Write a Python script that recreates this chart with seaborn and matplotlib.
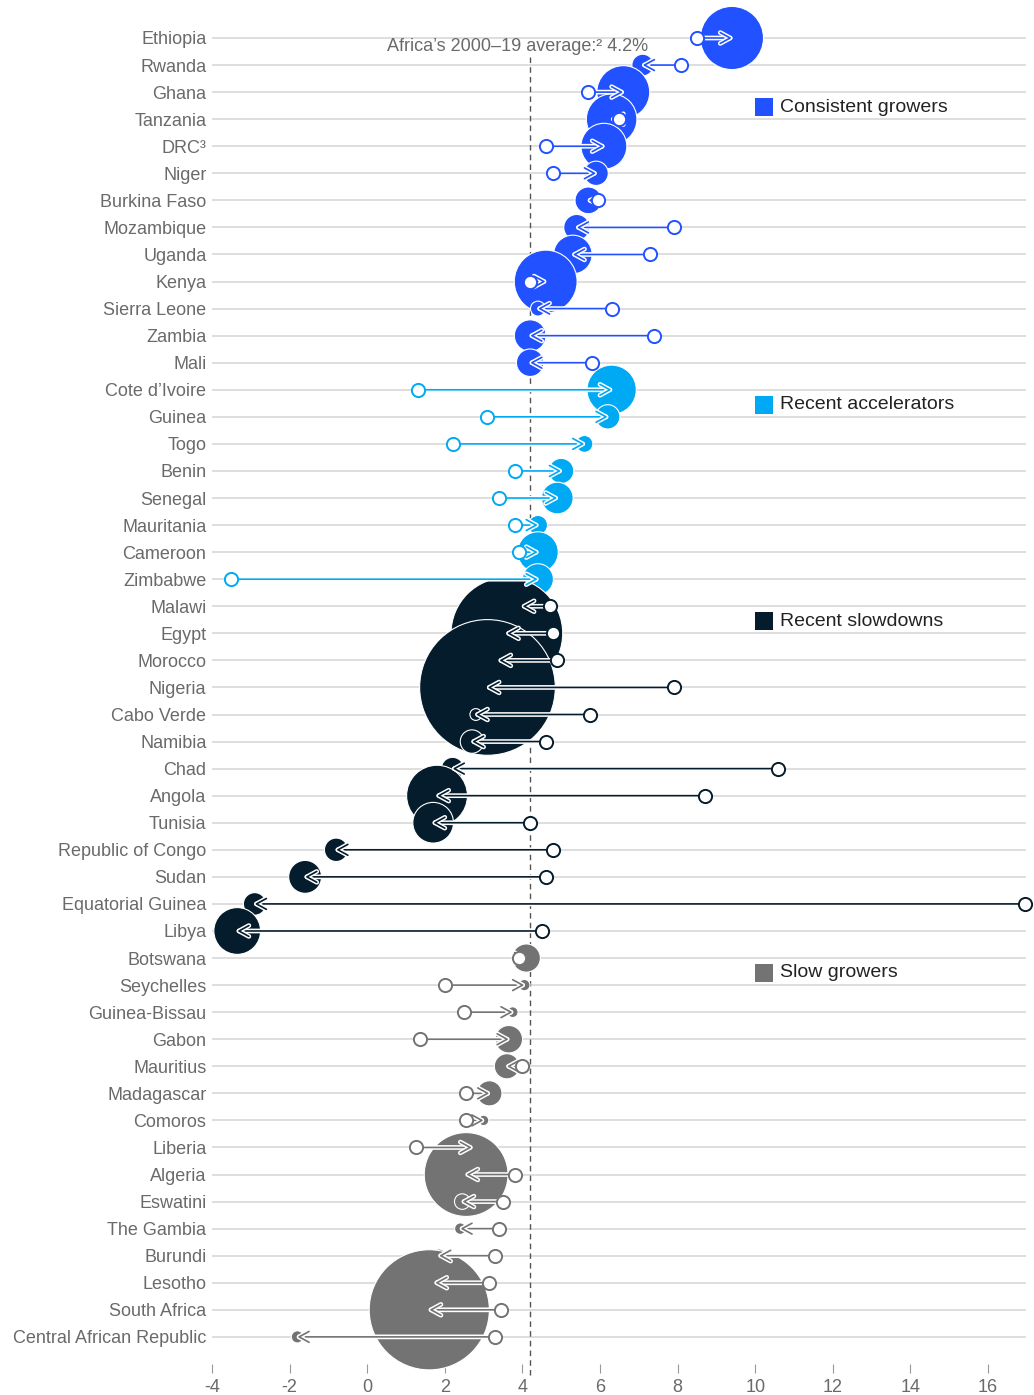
import numpy as np
import pandas as pd
import matplotlib
matplotlib.use("Agg")
import matplotlib.pyplot as plt
import matplotlib.patheffects as pe
import seaborn as sns

# ---------------- data ----------------
countries = [
    "Ethiopia", "Rwanda", "Ghana", "Tanzania", "DRC³", "Niger", "Burkina Faso",
    "Mozambique", "Uganda", "Kenya", "Sierra Leone", "Zambia", "Mali",
    "Cote d’Ivoire", "Guinea", "Togo", "Benin", "Senegal", "Mauritania",
    "Cameroon", "Zimbabwe",
    "Malawi", "Egypt", "Morocco", "Nigeria", "Cabo Verde", "Namibia", "Chad",
    "Angola", "Tunisia", "Republic of Congo", "Sudan", "Equatorial Guinea", "Libya",
    "Botswana", "Seychelles", "Guinea-Bissau", "Gabon", "Mauritius", "Madagascar",
    "Comoros", "Liberia", "Algeria", "Eswatini", "The Gambia", "Burundi", "Lesotho",
    "South Africa", "Central African Republic",
]
groups = (["Consistent growers"] * 13 + ["Recent accelerators"] * 8 +
          ["Recent slowdowns"] * 13 + ["Slow growers"] * 15)

# average real GDP growth, % (open circle = 2000-10, filled bubble = 2010-19)
growth_2000_10 = [
    8.5, 8.1, 5.7, 6.5, 4.6, 4.8, 5.95, 7.9, 7.3, 4.2, 6.3, 7.4, 5.8,
    1.3, 3.1, 2.2, 3.8, 3.4, 3.8, 3.9, -3.5,
    4.7, 4.8, 4.9, 7.9, 5.75, 4.6, 10.6, 8.7, 4.2, 4.8, 4.6, 16.95, 4.5,
    3.9, 2.0, 2.5, 1.35, 4.0, 2.55, 2.55, 1.25, 3.8, 3.5, 3.4, 3.3, 3.15, 3.45, 3.3,
]
growth_2010_19 = [
    9.4, 7.1, 6.6, 6.3, 6.1, 5.9, 5.7, 5.4, 5.3, 4.6, 4.4, 4.2, 4.2,
    6.3, 6.2, 5.6, 5.0, 4.9, 4.4, 4.4, 4.4,
    4.0, 3.6, 3.4, 3.1, 2.8, 2.7, 2.2, 1.8, 1.7, -0.8, -1.6, -2.9, -3.35,
    4.1, 4.05, 3.75, 3.65, 3.6, 3.15, 3.0, 2.7, 2.55, 2.45, 2.4, 1.85, 1.75, 1.6, -1.8,
]
# GDP, $ billion (bubble size)
gdp_bn = [
    96, 10, 67, 61, 50, 13, 16, 15, 35, 95, 4, 23, 17,
    58, 13, 5.5, 14, 23, 7.6, 39, 22,
    11, 303, 120, 448, 2, 12, 11, 89, 39, 12, 25, 11, 52,
    18, 1.7, 1.4, 17, 14, 14, 1.2, 3.3, 170, 4.5, 1.8, 3, 2.5, 351, 2.2,
]

group_names = ["Consistent growers", "Recent accelerators", "Recent slowdowns", "Slow growers"]
group_colors = ["#2251FF", "#00A9F4", "#051C2C", "#737373"]
legend_rows = [2.55, 13.55, 21.55, 34.55]
x_ticks = [-4, -2, 0, 2, 4, 6, 8, 10, 12, 14, 16]
africa_avg = 4.2
avg_label = "Africa’s 2000–19 average:² 4.2%"

palette = dict(zip(group_names, group_colors))

df = pd.DataFrame({
    "country": countries,
    "group": groups,
    "early": growth_2000_10,
    "recent": growth_2010_19,
    "gdp": gdp_bn,
})
df["row"] = np.arange(len(df))

# ---------------- style ----------------
sns.set_theme(style="white")
plt.rcParams["font.family"] = ["Liberation Sans", "DejaVu Sans"]

W, H = 1034, 1395
fig = plt.figure(figsize=(W / 100, H / 100), dpi=100)
left_px, bottom_px = 212, 1364
ax = fig.add_axes([left_px / W, 1 - bottom_px / H, 1 - left_px / W, bottom_px / H])

px_per_unit = 38.8
row_px = 27.06
x0 = -4
x1 = x0 + (W - left_px) / px_per_unit
ax.set_xlim(x0, x1)
ax.set_ylim((bottom_px - 38) / row_px, -38 / row_px)

# row gridlines
ax.hlines(df["row"], x0, 16.97, color="#d4d4d4", lw=1.1, zorder=0)

# average line
ax.plot([africa_avg, africa_avg], [0.7, 49.4], ls=(0, (4, 3)), color="#555555",
        lw=1.0, zorder=1, clip_on=False)
ax.text(3.87, 0.3, avg_label, ha="center", va="center", fontsize=13,
        color="#6a6a6a", zorder=1)

# bubbles (2010-19)
sns.scatterplot(data=df, x="recent", y="row", hue="group", palette=palette,
                size="gdp", sizes=(30, 9585), size_norm=(0, 450),
                edgecolor="white", linewidth=0.8, legend=False, ax=ax,
                zorder=3, clip_on=False)

# arrows from 2000-10 to 2010-19
for _, r in df.iterrows():
    c = palette[r["group"]]
    ax.annotate("", xy=(r["recent"], r["row"]), xytext=(r["early"], r["row"]),
                arrowprops=dict(arrowstyle="->,head_length=0.55,head_width=0.3",
                                color=c, lw=1.2, shrinkA=0, shrinkB=0,
                                mutation_scale=13,
                                path_effects=[pe.withStroke(linewidth=3.4, foreground="white")]),
                zorder=4)

# open circles (2000-10)
for g, c in zip(group_names, group_colors):
    sub = df[df["group"] == g]
    sns.scatterplot(data=sub, x="early", y="row", color="white", edgecolor=c,
                    linewidth=1.4, s=90, ax=ax, zorder=5, clip_on=False, legend=False)

# legend
for g, c, yr in zip(group_names, group_colors, legend_rows):
    ax.scatter([10.23], [yr], marker="s", s=168, color=c, linewidths=0, zorder=6)
    ax.text(10.64, yr, g, ha="left", va="center", fontsize=14, color="#222222", zorder=6)

# axes
ax.set_yticks(df["row"])
ax.set_yticklabels(df["country"])
ax.set_xticks(x_ticks)
ax.set_xticklabels([str(t) for t in x_ticks])
ax.set_xlabel("")
ax.set_ylabel("")
ax.tick_params(axis="y", left=False, length=0, pad=4, labelsize=13, labelcolor="#6a6a6a")
ax.tick_params(axis="x", bottom=True, length=6.5, width=0.8, color="#999999", pad=4,
               labelsize=13, labelcolor="#6a6a6a")
for s in ax.spines.values():
    s.set_visible(False)

fig.savefig("out.png", dpi=100)
